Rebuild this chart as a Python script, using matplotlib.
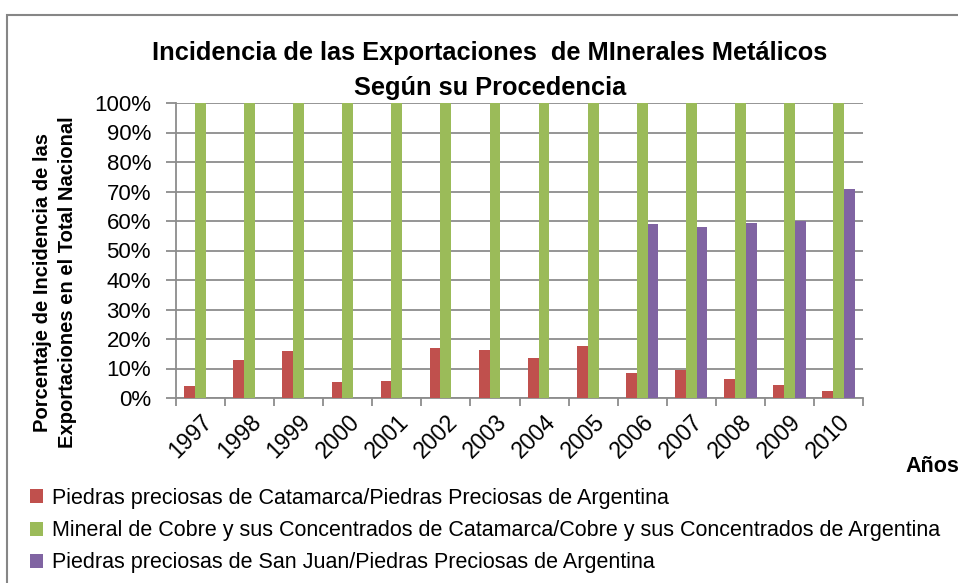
import numpy as np
import matplotlib
matplotlib.use("Agg")
import matplotlib.pyplot as plt
from matplotlib.patches import Rectangle, Patch
from matplotlib.ticker import PercentFormatter, FixedLocator

plt.rcParams['font.family'] = ['Liberation Sans', 'DejaVu Sans']

# Data
years = ["1997", "1998", "1999", "2000", "2001", "2002", "2003",
         "2004", "2005", "2006", "2007", "2008", "2009", "2010"]
piedras_catamarca = [4.2, 12.8, 15.8, 5.3, 5.8, 17.1, 16.2,
                     13.5, 17.7, 8.5, 9.5, 6.4, 4.5, 2.4]
cobre_catamarca = [100] * 14
piedras_sanjuan = [0, 0, 0, 0, 0, 0, 0, 0, 0, 59.1, 58.0, 59.4, 59.9, 70.9]

labels = [
    "Piedras preciosas de Catamarca/Piedras Preciosas de Argentina",
    "Mineral de Cobre y sus Concentrados de Catamarca/Cobre y sus Concentrados de Argentina",
    "Piedras preciosas de San Juan/Piedras Preciosas de Argentina",
]
colors = ["#C0504D", "#9BBB59", "#8064A2"]

W, H = 958, 583
fig = plt.figure(figsize=(W / 100, H / 100), dpi=100)

# chart border
fig.patches.append(Rectangle((7 / W, -0.1), 1.1, 1.1 - 15 / H,
                             transform=fig.transFigure, fill=False,
                             edgecolor="#868686", linewidth=1.5, clip_on=False))

ax = fig.add_axes([176 / W, 1 - 398 / H, 687 / W, 295 / H])

x = np.arange(len(years))
bw = 0.22
series = [piedras_catamarca, cobre_catamarca, piedras_sanjuan]
for i, (vals, c) in enumerate(zip(series, colors)):
    ax.bar(x + (i - 1) * bw, vals, width=bw, color=c, zorder=3)

ax.set_xlim(-0.5, len(years) - 0.5)
ax.set_ylim(0, 100)
ax.set_yticks(np.arange(0, 101, 10))
ax.yaxis.set_major_formatter(PercentFormatter(decimals=0))
ax.grid(axis="y", color="#8C8C8C", linewidth=1.3, zorder=0)

ax.set_xticks(x)
ax.set_xticklabels(years, rotation=45, ha="right", rotation_mode="anchor", fontsize=16.5)
ax.tick_params(axis="x", length=0, pad=9)
ax.xaxis.set_minor_locator(FixedLocator(np.arange(-0.5, len(years), 1)))
ax.tick_params(axis="x", which="minor", length=6, color="#8C8C8C", width=1.3)
ax.tick_params(axis="y", labelsize=16, length=7, color="#8C8C8C", width=1.3, pad=11)

for s in ["top", "right"]:
    ax.spines[s].set_visible(False)
for s in ["left", "bottom"]:
    ax.spines[s].set_color("#8C8C8C")
    ax.spines[s].set_linewidth(1.3)

fig.text(55 / W, 1 - 282 / H,
         "Porcentaje de Incidencia de las\nExportaciones en el Total Nacional",
         rotation=90, ha="center", va="center", fontsize=14.5, fontweight="bold",
         linespacing=1.4)

fig.text(490 / W, 1 - 53 / H, "Incidencia de las Exportaciones  de MInerales Metálicos",
         ha="center", va="center", fontsize=18.3, fontweight="bold")
fig.text(490 / W, 1 - 88 / H, "Según su Procedencia",
         ha="center", va="center", fontsize=18.3, fontweight="bold")

fig.text(905 / W, 1 - 466 / H, "Años", ha="left", va="center",
         fontsize=15.5, fontweight="bold")

handles = [Patch(facecolor=c) for c in colors]
fig.legend(handles, labels, loc="upper left", bbox_to_anchor=(30 / W, 1 - 488 / H),
           frameon=False, fontsize=15.5, handlelength=0.62, handleheight=0.62,
           handletextpad=0.4, labelspacing=0.52, borderaxespad=0, borderpad=0)

fig.savefig("out.png", dpi=100)
